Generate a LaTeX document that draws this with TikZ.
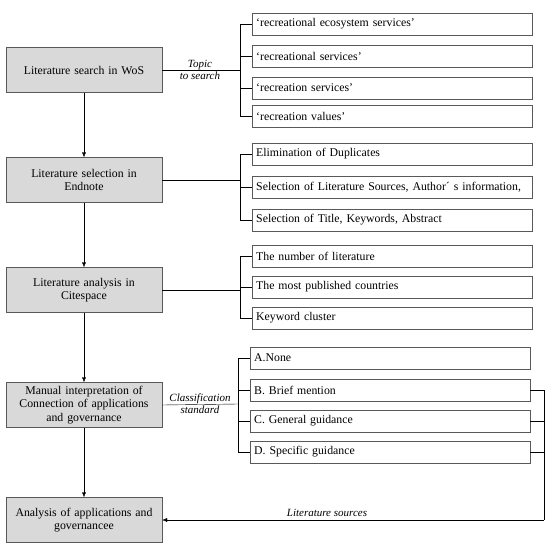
\documentclass[tikz,border=0pt]{standalone}
\usepackage{fontspec}
\setmainfont{Liberation Serif}
\usetikzlibrary{arrows.meta}
\tikzset{
  mainbox/.style={draw=black!65, fill=black!15, minimum width=156pt, minimum height=45pt,
    text width=152pt, align=center, inner sep=2pt, font=\fontsize{11.8}{13.5}\selectfont},
  itembox/.style={draw=black!65, anchor=west, minimum width=280pt, minimum height=22pt,
    text width=272pt, align=left, inner sep=4pt, font=\fontsize{11.8}{13}\selectfont},
  note/.style={font=\itshape\fontsize{11}{11}\selectfont, align=center, inner sep=1pt}
}
\begin{document}
\begin{tikzpicture}[x=1pt, y=-1pt]
    \useasboundingbox (0,0) rectangle (550,550);
    % main steps
    \node[mainbox] (search) at (84,70) {Literature search in WoS};
    \node[mainbox] (select) at (84,180) {Literature selection in\\Endnote};
    \node[mainbox] (cite) at (84,290) {Literature analysis in\\Citespace};
    \node[mainbox] (manual) at (84,405) {Manual interpretation of\\Connection of applications\\and governance};
    \node[mainbox] (analysis) at (84,520) {Analysis of applications and\\governancee};
    \draw[-{Latex[length=5pt,width=4pt]}] (search) -- (select);
    \draw[-{Latex[length=5pt,width=4pt]}] (select) -- (cite);
    \draw[-{Latex[length=5pt,width=4pt]}] (cite) -- (manual);
    \draw[-{Latex[length=5pt,width=4pt]}] (manual) -- (analysis);
    % search terms
    \node[itembox] (s1) at (252,24) {‘recreational ecosystem services’};
    \node[itembox] (s2) at (252,56) {‘recreational services’};
    \node[itembox] (s3) at (252,88) {‘recreation services’};
    \node[itembox] (s4) at (252,116) {‘recreation values’};
    \coordinate (bs) at (240,70);
    \draw (search.east) -- (bs);
    \draw (s1.west) -- (s1.west -| bs) -- (s4.west -| bs) -- (s4.west);
    \draw (s2.west) -- (s2.west -| bs);
    \draw (s3.west) -- (s3.west -| bs);
    \node[note] at (200,70) {Topic\\[1pt]to search};
    % selection
    \node[itembox] (e1) at (252,154) {Elimination of Duplicates};
    \node[itembox] (e2) at (252,187) {Selection of Literature Sources, Author´ s information,};
    \node[itembox] (e3) at (252,220) {Selection of Title, Keywords, Abstract};
    \coordinate (be) at (240,180);
    \draw (select.east) -- (be);
    \draw (e1.west) -- (e1.west -| be) -- (e3.west -| be) -- (e3.west);
    \draw (e2.west) -- (e2.west -| be);
    % analysis
    \node[itembox] (t1) at (252,256) {The number of literature};
    \node[itembox] (t2) at (252,287) {The most published countries};
    \node[itembox] (t3) at (252,318) {Keyword cluster};
    \coordinate (bt) at (240,290);
    \draw (cite.east) -- (bt);
    \draw (t1.west) -- (t1.west -| bt) -- (t3.west -| bt) -- (t3.west);
    \draw (t2.west) -- (t2.west -| bt);
    % classification
    \node[itembox] (ca) at (250,358) {A.None};
    \node[itembox] (cb) at (250,390) {B. Brief mention};
    \node[itembox] (cc) at (250,421) {C. General guidance};
    \node[itembox] (cd) at (250,452) {D. Specific guidance};
    \coordinate (bc) at (238,404);
    \draw (manual.east) -- (bc);
    \draw (ca.west) -- (ca.west -| bc) -- (cd.west -| bc) -- (cd.west);
    \draw (cb.west) -- (cb.west -| bc);
    \draw (cc.west) -- (cc.west -| bc);
    \node[note] at (200,404) {Classification\\[1pt]standard};
    % back to the last step
    \coordinate (br) at (544,520);
    \draw (cb.east) -- (cb.east -| br) -- (br);
    \draw (cc.east) -- (cc.east -| br);
    \draw (cd.east) -- (cd.east -| br);
    \draw[-{Latex[length=5pt,width=4pt]}] (br) -- (analysis.east);
    \node[note, above] at (327,518) {Literature sources};
\end{tikzpicture}
\end{document}
